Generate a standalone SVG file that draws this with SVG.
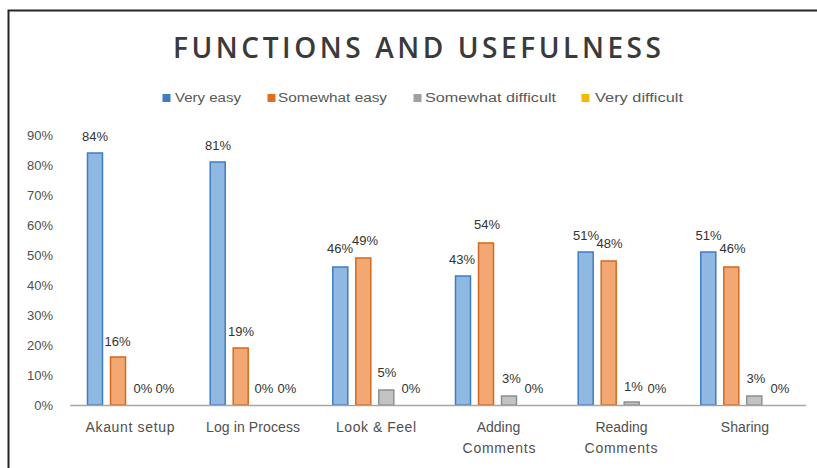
<svg xmlns="http://www.w3.org/2000/svg" width="817" height="468" viewBox="0 0 817 468">
<style>
text{font-family:"Liberation Sans",Arial,sans-serif;fill:#404040}
.title{font-family:"Open Sans","Liberation Sans",sans-serif;font-size:28px;font-weight:600;fill:#3a3a3a}
.leg{font-size:12.5px;fill:#595959}
.ax{font-size:13px;text-anchor:end;fill:#505050}
.dl{font-size:13px;text-anchor:middle;fill:#333333}
.cat{font-size:14px;text-anchor:middle;fill:#505050}
.b{fill:#8fb9e3;stroke:#3f7dc2;stroke-width:1.5}
.o{fill:#f3a772;stroke:#d46a1e;stroke-width:1.5}
.g{fill:#c3c3c3;stroke:#8f8f8f;stroke-width:1.5}
</style>
<rect x="0" y="0" width="817" height="468" fill="#ffffff"/>
<g id="frame" fill="none" stroke="#262626" stroke-width="2">
<path d="M8.5,468 V10.5 H817"/>
</g>
<g id="title">
<text class="title" x="417" y="58" text-anchor="middle" textLength="488" lengthAdjust="spacing">FUNCTIONS AND USEFULNESS</text>
</g>
<g id="legend">
<rect x="162.5" y="94" width="8" height="8" fill="#3f7dc2"/>
<text class="leg" x="175" y="102" textLength="66" lengthAdjust="spacingAndGlyphs">Very easy</text>
<rect x="267.5" y="94" width="8" height="8" fill="#e0701f"/>
<text class="leg" x="278" y="102" textLength="109" lengthAdjust="spacingAndGlyphs">Somewhat easy</text>
<rect x="413.5" y="94" width="8" height="8" fill="#a0a0a0"/>
<text class="leg" x="425" y="102" textLength="131" lengthAdjust="spacingAndGlyphs">Somewhat difficult</text>
<rect x="581.5" y="94" width="8" height="8" fill="#f5b800"/>
<text class="leg" x="595" y="102" textLength="88" lengthAdjust="spacingAndGlyphs">Very difficult</text>
</g>
<g id="y-axis">
<text class="ax" x="53" y="410">0%</text>
<text class="ax" x="53" y="380">10%</text>
<text class="ax" x="53" y="350">20%</text>
<text class="ax" x="53" y="320">30%</text>
<text class="ax" x="53" y="290">40%</text>
<text class="ax" x="53" y="260">50%</text>
<text class="ax" x="53" y="230">60%</text>
<text class="ax" x="53" y="200">70%</text>
<text class="ax" x="53" y="170">80%</text>
<text class="ax" x="53" y="140">90%</text>
</g>
<g id="cat-akaunt-setup">
<rect class="b" x="87.5" y="153" width="15" height="252"/>
<rect class="o" x="110.5" y="357" width="15" height="48"/>
<text class="dl" x="95" y="140.5">84%</text>
<text class="dl" x="117.5" y="345.5">16%</text>
<text class="dl" x="143" y="393">0%</text>
<text class="dl" x="165" y="393">0%</text>
<text class="cat" x="130" y="432" textLength="89" lengthAdjust="spacing">Akaunt setup</text>
</g>
<g id="cat-log-in-process">
<rect class="b" x="210.2" y="162" width="15" height="243"/>
<rect class="o" x="233.2" y="348" width="15" height="57"/>
<text class="dl" x="218" y="149.5">81%</text>
<text class="dl" x="241" y="335.5">19%</text>
<text class="dl" x="264" y="393">0%</text>
<text class="dl" x="287" y="393">0%</text>
<text class="cat" x="253" y="432" textLength="94" lengthAdjust="spacing">Log in Process</text>
</g>
<g id="cat-look-feel">
<rect class="b" x="332.8" y="267" width="15" height="138"/>
<rect class="o" x="355.8" y="258" width="15" height="147"/>
<rect class="g" x="378.8" y="390" width="15" height="15"/>
<text class="dl" x="340" y="253">46%</text>
<text class="dl" x="365" y="244.5">49%</text>
<text class="dl" x="387" y="377">5%</text>
<text class="dl" x="411" y="393">0%</text>
<text class="cat" x="376" y="432" textLength="80" lengthAdjust="spacing">Look &amp; Feel</text>
</g>
<g id="cat-adding-comments">
<rect class="b" x="455.5" y="276" width="15" height="129"/>
<rect class="o" x="478.5" y="243" width="15" height="162"/>
<rect class="g" x="501.5" y="396" width="15" height="9"/>
<text class="dl" x="462" y="264">43%</text>
<text class="dl" x="487" y="229">54%</text>
<text class="dl" x="511.5" y="383">3%</text>
<text class="dl" x="534" y="393">0%</text>
<text class="cat" x="498.5" y="432">Adding</text>
<text class="cat" x="499" y="453" textLength="73" lengthAdjust="spacing">Comments</text>
</g>
<g id="cat-reading-comments">
<rect class="b" x="578.2" y="252" width="15" height="153"/>
<rect class="o" x="601.2" y="261" width="15" height="144"/>
<rect class="g" x="624.2" y="402" width="15" height="3"/>
<text class="dl" x="586" y="239.5">51%</text>
<text class="dl" x="609.5" y="248">48%</text>
<text class="dl" x="633.5" y="391">1%</text>
<text class="dl" x="657" y="393">0%</text>
<text class="cat" x="621.5" y="432">Reading</text>
<text class="cat" x="621" y="453" textLength="73" lengthAdjust="spacing">Comments</text>
</g>
<g id="cat-sharing">
<rect class="b" x="700.8" y="252" width="15" height="153"/>
<rect class="o" x="723.8" y="267" width="15" height="138"/>
<rect class="g" x="746.8" y="396" width="15" height="9"/>
<text class="dl" x="708.5" y="239.5">51%</text>
<text class="dl" x="732.5" y="253">46%</text>
<text class="dl" x="756" y="383">3%</text>
<text class="dl" x="780" y="393">0%</text>
<text class="cat" x="745" y="432">Sharing</text>
</g>
<g id="x-axis">
<line x1="70" y1="405.5" x2="806" y2="405.5" stroke="#a6a6a6" stroke-width="1.5"/>
</g>
<g id="connectors"/>
</svg>
